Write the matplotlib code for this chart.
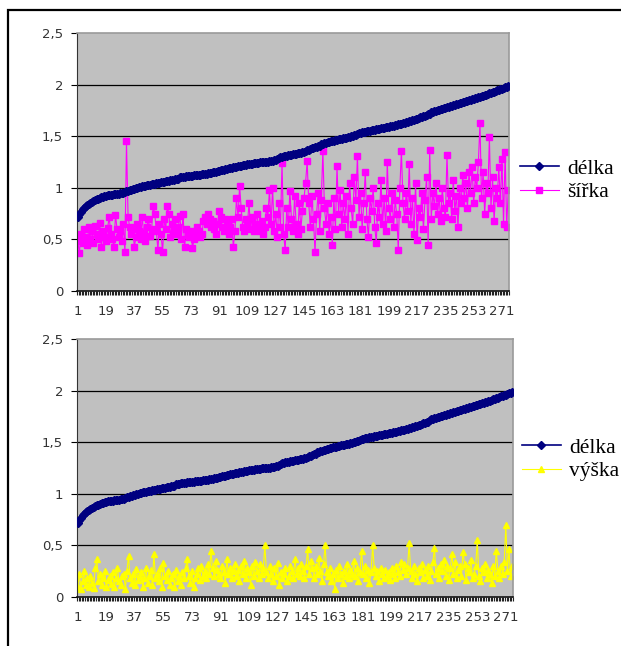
import numpy as np
from matplotlib import pyplot as plt
from matplotlib.patches import Rectangle
from matplotlib.ticker import FixedLocator, FuncFormatter

# délka (sorted), šířka and výška for each sample
delka = [
    0.72, 0.75, 0.77, 0.79, 0.80, 0.82, 0.83, 0.84, 0.85, 0.86,
    0.87, 0.88, 0.89, 0.89, 0.90, 0.91, 0.91, 0.92, 0.92, 0.93,
    0.93, 0.93, 0.93, 0.94, 0.94, 0.94, 0.94, 0.95, 0.95, 0.95,
    0.96, 0.97, 0.97, 0.98, 0.98, 0.99, 0.99, 1.00, 1.00, 1.01,
    1.01, 1.02, 1.02, 1.02, 1.03, 1.03, 1.03, 1.04, 1.04, 1.04,
    1.05, 1.05, 1.05, 1.06, 1.06, 1.06, 1.07, 1.07, 1.07, 1.08,
    1.08, 1.08, 1.09, 1.09, 1.09, 1.10, 1.10, 1.10, 1.10, 1.11,
    1.11, 1.11, 1.11, 1.11, 1.12, 1.12, 1.12, 1.12, 1.12, 1.13,
    1.13, 1.13, 1.13, 1.14, 1.14, 1.14, 1.15, 1.15, 1.15, 1.16,
    1.16, 1.17, 1.17, 1.17, 1.18, 1.18, 1.19, 1.19, 1.19, 1.20,
    1.20, 1.20, 1.21, 1.21, 1.21, 1.22, 1.22, 1.22, 1.23, 1.23,
    1.23, 1.23, 1.24, 1.24, 1.24, 1.24, 1.25, 1.25, 1.25, 1.25,
    1.25, 1.25, 1.26, 1.26, 1.26, 1.27, 1.27, 1.28, 1.29, 1.30,
    1.30, 1.31, 1.31, 1.31, 1.32, 1.32, 1.32, 1.33, 1.33, 1.33,
    1.34, 1.34, 1.34, 1.35, 1.35, 1.36, 1.37, 1.37, 1.38, 1.39,
    1.39, 1.40, 1.40, 1.41, 1.41, 1.42, 1.42, 1.43, 1.43, 1.44,
    1.44, 1.45, 1.45, 1.45, 1.46, 1.46, 1.47, 1.47, 1.47, 1.48,
    1.48, 1.48, 1.49, 1.49, 1.50, 1.50, 1.51, 1.51, 1.52, 1.53,
    1.53, 1.54, 1.54, 1.54, 1.55, 1.55, 1.55, 1.56, 1.56, 1.56,
    1.57, 1.57, 1.57, 1.58, 1.58, 1.58, 1.59, 1.59, 1.59, 1.60,
    1.60, 1.60, 1.61, 1.61, 1.62, 1.62, 1.62, 1.63, 1.63, 1.64,
    1.64, 1.65, 1.65, 1.66, 1.66, 1.67, 1.67, 1.68, 1.69, 1.69,
    1.70, 1.70, 1.71, 1.72, 1.72, 1.73, 1.73, 1.74, 1.74, 1.75,
    1.75, 1.76, 1.76, 1.77, 1.77, 1.78, 1.78, 1.79, 1.79, 1.80,
    1.80, 1.81, 1.81, 1.82, 1.82, 1.83, 1.83, 1.84, 1.84, 1.85,
    1.85, 1.86, 1.86, 1.87, 1.87, 1.88, 1.88, 1.89, 1.89, 1.90,
    1.90, 1.91, 1.92, 1.92, 1.93, 1.93, 1.94, 1.95, 1.95, 1.96,
    1.96, 1.97, 1.98, 1.98, 1.99,
]

sirka = [
    0.48, 0.37, 0.55, 0.47, 0.60, 0.52, 0.45, 0.62, 0.50, 0.58,
    0.47, 0.63, 0.55, 0.50, 0.66, 0.43, 0.58, 0.52, 0.48, 0.61,
    0.72, 0.55, 0.50, 0.43, 0.74, 0.60, 0.52, 0.58, 0.48, 0.65,
    0.38, 1.45, 0.72, 0.62, 0.55, 0.60, 0.43, 0.52, 0.65, 0.58,
    0.50, 0.72, 0.55, 0.48, 0.62, 0.70, 0.53, 0.60, 0.82, 0.75,
    0.58, 0.40, 0.65, 0.55, 0.38, 0.70, 0.60, 0.82, 0.75, 0.52,
    0.65, 0.58, 0.70, 0.55, 0.62, 0.73, 0.50, 0.75, 0.43, 0.60,
    0.55, 0.52, 0.58, 0.42, 0.50, 0.55, 0.62, 0.58, 0.52, 0.55,
    0.68, 0.72, 0.65, 0.75, 0.70, 0.62, 0.68, 0.60, 0.55, 0.65,
    0.78, 0.72, 0.62, 0.58, 0.70, 0.65, 0.55, 0.62, 0.70, 0.43,
    0.58, 0.90, 0.72, 1.02, 0.80, 0.62, 0.58, 0.70, 0.65, 0.85,
    0.60, 0.72, 0.58, 0.65, 0.75, 0.62, 0.58, 0.68, 0.55, 0.62,
    0.80, 0.72, 0.98, 0.65, 1.00, 0.58, 0.75, 0.52, 0.85, 0.62,
    1.24, 0.55, 0.40, 0.80, 0.62, 0.97, 0.70, 0.58, 0.92, 0.65,
    0.55, 0.85, 0.60, 0.78, 0.90, 1.05, 1.26, 0.85, 0.62, 0.92,
    0.70, 0.38, 0.75, 0.95, 0.58, 0.88, 1.36, 0.80, 0.65, 0.85,
    0.55, 0.72, 0.45, 0.90, 0.60, 1.21, 0.75, 0.98, 0.62, 0.85,
    0.70, 0.92, 0.55, 1.05, 0.80, 0.65, 1.10, 0.88, 1.31, 0.72,
    0.95, 0.60, 0.85, 1.15, 0.70, 0.52, 0.90, 0.78, 1.00, 0.62,
    0.47, 0.85, 0.72, 1.08, 0.65, 0.90, 0.58, 1.25, 0.80, 0.70,
    0.95, 0.62, 0.88, 0.75, 0.40, 1.00, 1.36, 0.85, 0.70, 0.95,
    0.78, 1.23, 0.65, 0.90, 0.55, 1.05, 0.49, 0.80, 0.72, 0.95,
    0.60, 0.88, 1.10, 0.45, 1.37, 0.70, 0.95, 0.82, 1.05, 0.75,
    0.90, 0.68, 1.00, 0.80, 0.72, 1.32, 0.85, 0.95, 0.70, 1.08,
    0.78, 0.92, 0.62, 1.00, 0.85, 1.12, 0.90, 1.05, 0.80, 1.15,
    0.95, 1.20, 0.85, 1.10, 1.00, 1.25, 1.63, 0.90, 1.15, 0.75,
    1.05, 0.95, 1.49, 0.80, 1.10, 0.68, 1.00, 0.90, 1.20, 0.85,
    1.28, 0.65, 1.35, 0.62, 0.98,
]

vyska = [
    0.10, 0.22, 0.08, 0.15, 0.25, 0.12, 0.18, 0.10, 0.20, 0.14,
    0.09, 0.28, 0.37, 0.15, 0.22, 0.12, 0.18, 0.25, 0.10, 0.16,
    0.20, 0.13, 0.24, 0.10, 0.18, 0.28, 0.15, 0.12, 0.20, 0.22,
    0.08, 0.25, 0.40, 0.18, 0.14, 0.22, 0.12, 0.27, 0.16, 0.20,
    0.24, 0.10, 0.18, 0.28, 0.14, 0.20, 0.26, 0.12, 0.42, 0.18,
    0.22, 0.15, 0.28, 0.10, 0.33, 0.20, 0.16, 0.25, 0.12, 0.18,
    0.22, 0.10, 0.26, 0.15, 0.20, 0.12, 0.24, 0.18, 0.28, 0.37,
    0.20, 0.14, 0.25, 0.10, 0.18, 0.22, 0.28, 0.16, 0.30, 0.20,
    0.25, 0.18, 0.32, 0.22, 0.45, 0.28, 0.20, 0.35, 0.26, 0.22,
    0.18, 0.30, 0.24, 0.14, 0.37, 0.22, 0.28, 0.18, 0.25, 0.32,
    0.20, 0.26, 0.15, 0.30, 0.22, 0.35, 0.18, 0.28, 0.24, 0.12,
    0.30, 0.20, 0.34, 0.25, 0.18, 0.32, 0.22, 0.28, 0.50, 0.24,
    0.18, 0.30, 0.22, 0.15, 0.28, 0.20, 0.33, 0.12, 0.24, 0.18,
    0.22, 0.28, 0.15, 0.20, 0.30, 0.25, 0.18, 0.37, 0.22, 0.28,
    0.20, 0.32, 0.25, 0.18, 0.30, 0.46, 0.22, 0.35, 0.28, 0.18,
    0.30, 0.22, 0.38, 0.25, 0.15, 0.32, 0.50, 0.24, 0.20, 0.28,
    0.15, 0.22, 0.08, 0.26, 0.18, 0.30, 0.22, 0.14, 0.25, 0.20,
    0.32, 0.18, 0.26, 0.22, 0.35, 0.20, 0.28, 0.15, 0.24, 0.45,
    0.22, 0.30, 0.18, 0.26, 0.14, 0.24, 0.50, 0.28, 0.20, 0.25,
    0.15, 0.28, 0.22, 0.18, 0.26, 0.20, 0.24, 0.16, 0.28, 0.22,
    0.18, 0.30, 0.24, 0.20, 0.34, 0.26, 0.32, 0.22, 0.28, 0.52,
    0.25, 0.18, 0.30, 0.22, 0.15, 0.28, 0.24, 0.32, 0.18, 0.26,
    0.20, 0.30, 0.16, 0.25, 0.34, 0.47, 0.22, 0.28, 0.18, 0.32,
    0.25, 0.36, 0.20, 0.30, 0.16, 0.28, 0.42, 0.22, 0.34, 0.18,
    0.26, 0.30, 0.20, 0.44, 0.32, 0.16, 0.28, 0.24, 0.36, 0.18,
    0.22, 0.30, 0.55, 0.20, 0.15, 0.28, 0.24, 0.32, 0.18, 0.26,
    0.22, 0.14, 0.30, 0.20, 0.45, 0.25, 0.18, 0.30, 0.22, 0.34,
    0.70, 0.25, 0.46, 0.20, 0.30,
]

x_labels = [1, 19, 37, 55, 73, 91, 109, 127, 145, 163, 181, 199, 217, 235, 253, 271]
y_ticks = [0, 0.5, 1, 1.5, 2, 2.5]


def style_axes(ax, n):
    ax.set_facecolor('#c0c0c0')
    ax.set_xlim(0.5, n + 0.5)
    ax.set_ylim(0, 2.5)
    ax.set_yticks(y_ticks)
    ax.yaxis.set_major_formatter(FuncFormatter(lambda v, p: f"{v:g}".replace('.', ',')))
    for v in y_ticks[1:-1]:
        ax.axhline(v, color='black', lw=0.9, zorder=1)
    ax.xaxis.set_major_locator(FixedLocator(x_labels))
    ax.xaxis.set_minor_locator(FixedLocator(np.arange(0.5, n + 1, 1)))
    ax.tick_params(axis='x', which='major', length=0, pad=10, labelsize=9.5, labelcolor='#333333')
    ax.tick_params(axis='x', which='minor', length=3, width=0.8, color='#222222')
    ax.tick_params(axis='y', length=4, width=0.8, pad=6, labelsize=9.5, labelcolor='#333333')
    for side in ('top', 'right'):
        ax.spines[side].set_color('#9a9a9a')
        ax.spines[side].set_linewidth(1.2)
    ax.spines['left'].set_color('#333333')
    ax.spines['bottom'].set_color('#111111')
    ax.spines['bottom'].set_linewidth(1.2)


fig = plt.figure(figsize=(6.21, 6.46), dpi=100)
fig.patches.append(Rectangle((0.0129, -0.1), 1.2, 1.0845, transform=fig.transFigure,
                             fill=False, edgecolor='black', lw=1.6))

n = len(delka)
idx = np.arange(1, n + 1)
legend_kw = dict(frameon=False, borderpad=0, borderaxespad=0, handlelength=1.8,
                 handletextpad=0.4, labelspacing=0.15,
                 prop={'family': 'Liberation Serif', 'size': 15.5})

ax1 = fig.add_axes([0.124, 0.5495, 0.6957, 0.3994])
ax1.plot(idx, delka, color='#000080', marker='D', ms=4.5, lw=1.2, label='délka', zorder=3)
ax1.plot(idx, sirka, color='#ff00ff', marker='s', ms=4.2, lw=0.8, label='šířka', zorder=2)
style_axes(ax1, n)
ax1.legend(loc='center left', bbox_to_anchor=(0.837, 0.7206), bbox_transform=fig.transFigure,
           **legend_kw)

ax2 = fig.add_axes([0.124, 0.0759, 0.702, 0.3994])
ax2.plot(idx, delka, color='#000080', marker='D', ms=4.5, lw=1.2, label='délka', zorder=3)
ax2.plot(idx, vyska, color='#ffff00', marker='^', ms=4.5, lw=0.8, label='výška', zorder=2)
style_axes(ax2, n)
ax2.legend(loc='center left', bbox_to_anchor=(0.8406, 0.2887), bbox_transform=fig.transFigure,
           **legend_kw)

plt.savefig('out.png', dpi=100)
